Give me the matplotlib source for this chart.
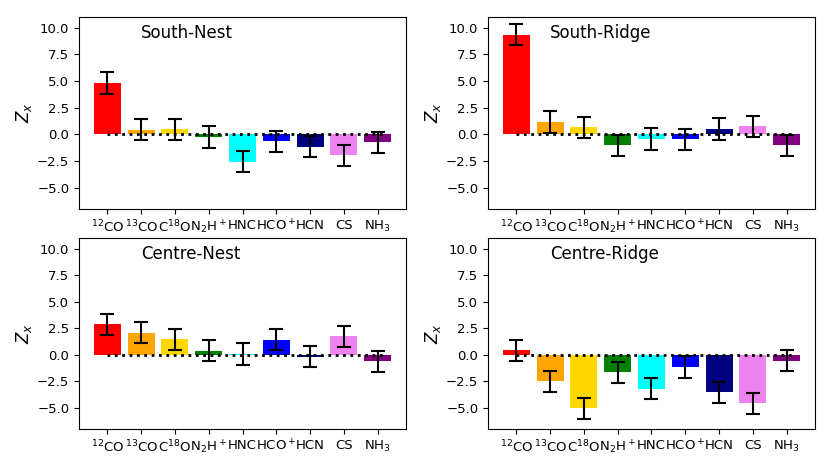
import matplotlib
matplotlib.use("Agg")
import matplotlib.pyplot as plt
import numpy as np

molecules = [r"$^{12}$CO", r"$^{13}$CO", r"C$^{18}$O", r"N$_2$H$^+$", "HNC",
             r"HCO$^+$", "HCN", "CS", r"NH$_3$"]
colors = ["red", "orange", "gold", "green", "cyan", "blue", "navy", "violet", "purple"]

regions = ["South-Nest", "South-Ridge", "Centre-Nest", "Centre-Ridge"]
south_nest = [4.8, 0.43, 0.47, -0.25, -2.57, -0.67, -1.17, -1.97, -0.75]
south_ridge = [9.35, 1.15, 0.65, -1.02, -0.43, -0.47, 0.5, 0.74, -1.02]
centre_nest = [2.85, 2.09, 1.44, 0.38, 0.06, 1.41, -0.17, 1.72, -0.62]
centre_ridge = [0.42, -2.52, -5.04, -1.65, -3.19, -1.15, -3.54, -4.57, -0.55]
errors = [1.0] * 9

values = [south_nest, south_ridge, centre_nest, centre_ridge]

W, H = 831, 462
fig = plt.figure(figsize=(W / 100, H / 100), dpi=100)

# axes boxes in pixels: left, right, top, bottom
boxes = [(79, 406, 17, 209), (488, 815, 17, 209),
         (79, 406, 238, 429), (488, 815, 238, 429)]

x = np.arange(len(molecules))
for name, vals, (l, r, t, b) in zip(regions, values, boxes):
    ax = fig.add_axes([l / W, 1 - b / H, (r - l) / W, (b - t) / H])
    ax.bar(x, vals, width=0.8, color=colors)
    ax.errorbar(x, vals, yerr=errors, fmt="none", ecolor="black",
                elinewidth=1.5, capsize=5, capthick=1.5)
    ax.plot([0, 8.2], [0, 0], color="black", linestyle=":", linewidth=2)
    ax.set_xlim(-0.84, 8.84)
    ax.set_ylim(-7, 11)
    ax.set_yticks([-5.0, -2.5, 0.0, 2.5, 5.0, 7.5, 10.0])
    ax.set_xticks(x)
    ax.set_xticklabels(molecules, fontsize=9.5)
    ax.tick_params(axis="y", labelsize=9.5)
    ax.set_ylabel(r"$Z_x$", fontsize=12, labelpad=2)
    ax.text(1, 9, name, fontsize=12)

fig.savefig("out.png", dpi=100)
